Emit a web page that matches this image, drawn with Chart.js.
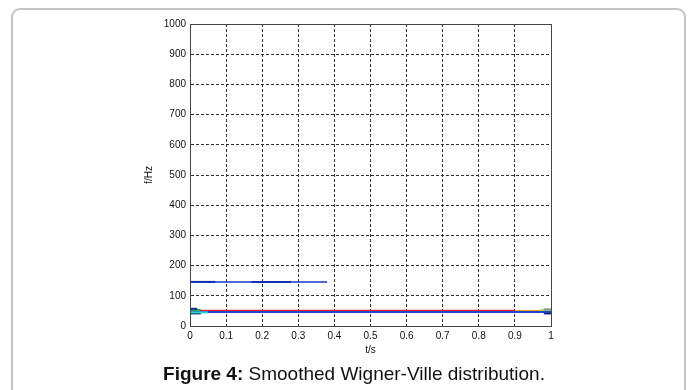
<!DOCTYPE html>
<html>
<head>
<meta charset="utf-8">
<script src="https://cdn.jsdelivr.net/npm/chart.js@4.4.1/dist/chart.umd.min.js"></script>
<style>
  html, body { margin: 0; padding: 0; background: #fff; }
  #wrap { position: relative; width: 696px; height: 390px; overflow: hidden; }
  #frame {
    position: absolute; left: 11px; top: 8px; width: 675px; height: 400px;
    border: 2px solid #c4c4c4; border-radius: 9px; box-sizing: border-box;
  }
  #caption {
    position: absolute; left: 6px; width: 696px; top: 363px; text-align: center;
    font-family: "Liberation Sans", Arial, sans-serif; font-size: 19px; color: #111;
  }
  #chart { position: absolute; left: 0; top: 0; }
</style>
</head>
<body>
<div id="wrap">
  <div id="frame"></div>
  <canvas id="chart" width="696" height="390"></canvas>
  <div id="caption"><b>Figure 4:</b> Smoothed Wigner-Ville distribution.</div>
</div>
<script>
// time axis (s) and frequency axis (Hz)
var t_min = 0, t_max = 1, t_step = 0.1;
var f_min = 0, f_max = 1000, f_step = 100;

// main ridges of the distribution
var red_t = [0, 0.9];
var red_f = [50.5, 50.5];
var orange_t = [0.9, 0.97];
var orange_f = [50, 50];
var blue_t = [0, 1];
var blue_f = [46, 46];
var high_t = [0, 0.38];
var high_f = [146, 146];
var highA_t = [0, 0.07];
var highA_f = [146, 146];
var highB_t = [0.17, 0.28];
var highB_f = [146, 146];

// little edge artefacts at t=0 and t=1
var edge0_t = [0, 0.02];
var edge0_f = [57, 57];
var edge1_t = [0, 0.03];
var edge1_f = [53, 53];
var edge2_t = [0, 0.05];
var edge2_f = [45, 45];
var edge3_t = [0, 0.03];
var edge3_f = [41, 41];
var edgeR0_t = [0.97, 1];
var edgeR0_f = [52, 52];
var edgeR1_t = [0.96, 1];
var edgeR1_f = [47, 47];
var edgeR2_t = [0.98, 1];
var edgeR2_f = [41, 41];
var edgeR3_t = [0.98, 1];
var edgeR3_f = [55, 55];

function pts(t, f) {
    return t.map((v, i) => ({ x: v, y: f[i] }));
}

function line(t, f, color, width) {
    return { data: pts(t, f), borderColor: color, borderWidth: width, pointRadius: 0, fill: false, tension: 0 };
}

// solid box round the plot, like matlab
const boxPlugin = {
    id: 'box',
    afterDraw(chart) {
        const a = chart.chartArea, ctx = chart.ctx;
        ctx.save();
        ctx.strokeStyle = '#444';
        ctx.lineWidth = 1;
        ctx.strokeRect(Math.round(a.left) + 0.5, Math.round(a.top) + 0.5, Math.round(a.right - a.left), Math.round(a.bottom - a.top));
        ctx.restore();
    }
};

const font = { family: '"Liberation Sans", Arial, sans-serif', size: 10 };
// plain numbers, no thousands comma, "1" not "1.0"
const plain = v => String(Math.round(v * 1000) / 1000);

new Chart(document.getElementById('chart').getContext('2d'), {
    type: 'line',
    data: {
        datasets: [
            line(high_t, high_f, '#1a35c0', 1.5),
            line(highA_t, highA_f, '#0a1a8c', 2),
            line(highB_t, highB_f, '#0a1a8c', 2),
            line(edge0_t, edge0_f, '#1a2a9a', 2),
            line(edge1_t, edge1_f, '#30a040', 2),
            line(edge2_t, edge2_f, '#30d0d0', 2),
            line(edge3_t, edge3_f, '#0a1a6a', 1.5),
            line(blue_t, blue_f, '#1f45c8', 2),
            line(red_t, red_f, '#e52228', 2),
            line(orange_t, orange_f, '#f0a020', 2),
            line(edgeR3_t, edgeR3_f, '#8090a0', 2),
            line(edgeR0_t, edgeR0_f, '#a0d030', 2),
            line(edgeR1_t, edgeR1_f, '#30d0e0', 2),
            line(edgeR2_t, edgeR2_f, '#0a1a6a', 1.5)
        ]
    },
    options: {
        responsive: false,
        animation: false,
        layout: { padding: { left: 143, right: 145, top: 24, bottom: 34 } },
        plugins: { legend: { display: false }, tooltip: { enabled: false } },
        scales: {
            x: {
                type: 'linear', min: t_min, max: t_max,
                afterFit: s => { s.height = 30; },
                ticks: { stepSize: t_step, font: font, color: '#111', padding: 4, maxRotation: 0, callback: plain },
                grid: { color: '#333', drawTicks: false },
                border: { color: '#444', dash: [3, 2] },
                title: { display: true, text: 't/s', font: font, color: '#111', padding: 0 }
            },
            y: {
                type: 'linear', min: f_min, max: f_max,
                afterFit: s => { s.width = 47; },
                ticks: { stepSize: f_step, font: font, color: '#111', padding: 4, callback: plain },
                grid: { color: '#333', drawTicks: false },
                border: { color: '#444', dash: [3, 2] },
                title: { display: true, text: 'f/Hz', font: font, color: '#111', padding: 0 }
            }
        }
    },
    plugins: [boxPlugin]
});
</script>
</body>
</html>
